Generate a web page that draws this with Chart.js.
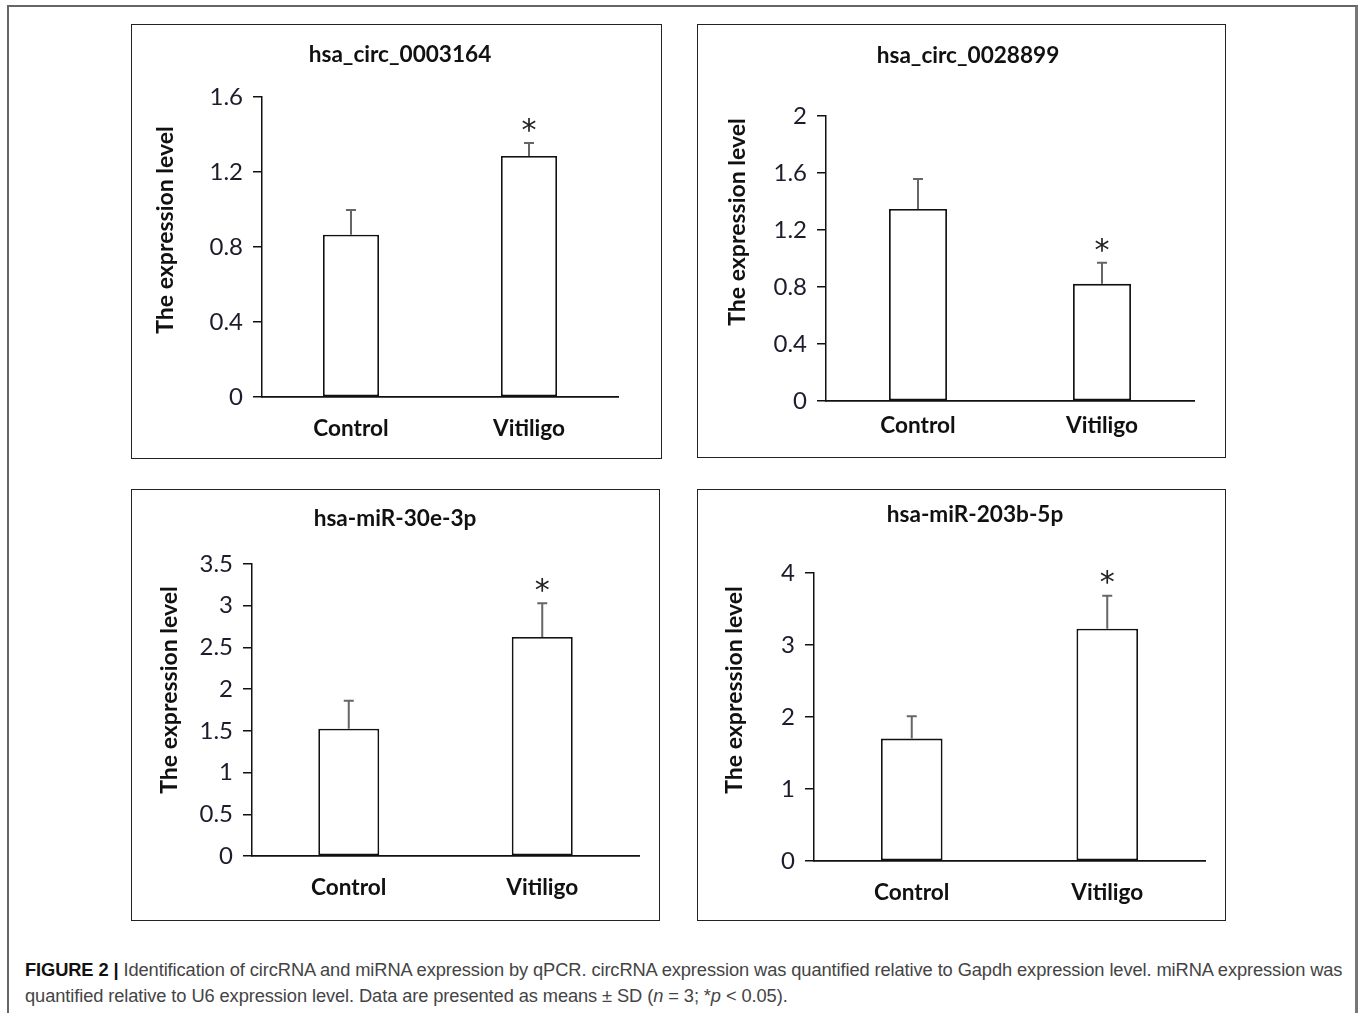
<!DOCTYPE html>
<html>
<head>
<meta charset="utf-8">
<script src="https://cdn.jsdelivr.net/npm/chart.js@4.4.1/dist/chart.umd.min.js"></script>
<style>
  body { margin: 0; background: #fff; }
  #page { position: relative; width: 1360px; height: 1013px; overflow: hidden; }
  .frame { position: absolute; border-top: 2px solid #666; border-left: 2px solid #666; border-right: 3px solid #777; left: 7px; top: 5px; width: 1351px; height: 1020px; box-sizing: border-box; }
  .box { position: absolute; border: 1.5px solid #222; box-sizing: border-box; }
  canvas { position: absolute; }
  .caption { position: absolute; left: 25px; top: 957px; width: 1328px; font-family: "Liberation Sans", Arial, sans-serif; font-size: 18.3px; line-height: 26px; color: #444; letter-spacing: -0.1px; }
  .caption b { color: #111; }
</style>
</head>
<body>
<div id="page">
  <div class="frame"></div>
  <div class="caption"><b>FIGURE 2 |</b> Identification of circRNA and miRNA expression by qPCR. circRNA expression was quantified relative to Gapdh expression level. miRNA expression was quantified relative to U6 expression level. Data are presented as means ± SD (<i>n</i> = 3; *<i>p</i> &lt; 0.05).</div>
</div>
<script>
// data
const categories = ['Control', 'Vitiligo'];
const titles = ['hsa_circ_0003164', 'hsa_circ_0028899', 'hsa-miR-30e-3p', 'hsa-miR-203b-5p'];
const means = [
  [0.865, 1.285],
  [1.348, 0.822],
  [1.525, 2.625],
  [1.70, 3.225]
];
const sds = [
  [0.133, 0.07],
  [0.21, 0.148],
  [0.335, 0.405],
  [0.31, 0.46]
];
const significant = [
  [false, true],
  [false, true],
  [false, true],
  [false, true]
];
const yMax = [1.6, 2, 3.5, 4];
const yStep = [0.4, 0.4, 0.5, 1];
const yTitle = 'The expression level';

// layout of each panel in page pixels
const layouts = [
  { box: [131, 24, 531, 435], plot: [262, 618, 97, 397], title: [400, 55], ytitle: [166, 230], xpad: 19 },
  { box: [697, 24, 529, 434], plot: [826, 1194, 116, 401], title: [968, 56], ytitle: [738, 222], xpad: 12 },
  { box: [131, 489, 529, 432], plot: [252, 639, 564, 856], title: [395, 519], ytitle: [170, 690], xpad: 19 },
  { box: [697, 489, 529, 432], plot: [814, 1205, 573, 861], title: [975, 515], ytitle: [735, 690], xpad: 19 }
];

const FONT = 'Lato, "Open Sans", sans-serif';

const extras = {
  id: 'extras',
  afterDatasetsDraw(chart, args, opts) {
    const ctx = chart.ctx;
    const y = chart.scales.y;
    const meta = chart.getDatasetMeta(0);
    ctx.save();
    meta.data.forEach((bar, i) => {
      const top = y.getPixelForValue(opts.means[i]);
      const errTop = y.getPixelForValue(opts.means[i] + opts.sds[i]);
      ctx.strokeStyle = '#666';
      ctx.lineWidth = 2;
      ctx.beginPath();
      ctx.moveTo(bar.x, top);
      ctx.lineTo(bar.x, errTop);
      ctx.moveTo(bar.x - 5, errTop);
      ctx.lineTo(bar.x + 5, errTop);
      ctx.stroke();
      if (opts.sig[i]) {
        ctx.fillStyle = '#222';
        ctx.font = '30px "DejaVu Sans", sans-serif';
        ctx.textAlign = 'center';
        ctx.textBaseline = 'middle';
        ctx.fillText('*', bar.x, errTop - 11);
      }
    });
    ctx.restore();
  },
  afterDraw(chart, args, opts) {
    const ctx = chart.ctx;
    ctx.save();
    ctx.fillStyle = '#111';
    ctx.textAlign = 'center';
    ctx.textBaseline = 'middle';
    ctx.font = 'bold 22.6px ' + FONT;
    ctx.fillText(opts.title, opts.titlePos[0], opts.titlePos[1]);
    ctx.translate(opts.ytitlePos[0], opts.ytitlePos[1]);
    ctx.rotate(-Math.PI / 2);
    ctx.font = 'bold 23px ' + FONT;
    ctx.fillText(opts.ytitle, 0, 0);
    ctx.restore();
  }
};

const page = document.getElementById('page');

layouts.forEach((L, k) => {
  const [bx, by, bw, bh] = L.box;
  const [pl, pr, pt, pb] = L.plot;

  const frame = document.createElement('div');
  frame.className = 'box';
  frame.style.left = bx + 'px';
  frame.style.top = by + 'px';
  frame.style.width = bw + 'px';
  frame.style.height = bh + 'px';
  page.appendChild(frame);

  const cv = document.createElement('canvas');
  cv.width = bw;
  cv.height = bh;
  cv.style.left = bx + 'px';
  cv.style.top = by + 'px';
  cv.style.width = bw + 'px';
  cv.style.height = bh + 'px';
  page.appendChild(cv);

  new Chart(cv, {
    type: 'bar',
    data: {
      labels: categories,
      datasets: [{
        data: means[k],
        backgroundColor: '#fff',
        borderColor: '#111',
        borderWidth: 1.8,
        borderSkipped: false,
        categoryPercentage: 1,
        barPercentage: 0.315
      }]
    },
    options: {
      responsive: false,
      animation: false,
      devicePixelRatio: 1,
      layout: { padding: { left: 0, top: pt - by, right: bx + bw - pr, bottom: 0 } },
      plugins: {
        legend: { display: false },
        tooltip: { enabled: false },
        title: { display: false },
        extras: {
          means: means[k],
          sds: sds[k],
          sig: significant[k],
          title: titles[k],
          titlePos: [L.title[0] - bx, L.title[1] - by],
          ytitle: yTitle,
          ytitlePos: [L.ytitle[0] - bx, L.ytitle[1] - by]
        }
      },
      scales: {
        x: {
          offset: true,
          afterFit: s => { s.height = by + bh - pb; },
          grid: { display: false, drawTicks: false },
          border: { display: true, color: '#111', width: 1.8 },
          ticks: { color: '#111', padding: L.xpad - 1, font: { family: FONT, size: 22.6, weight: 'bold' } }
        },
        y: {
          min: 0,
          max: yMax[k],
          afterFit: s => { s.width = pl - bx; },
          ticks: {
            stepSize: yStep[k],
            color: '#1c1c2c',
            padding: 10,
            font: { family: FONT, size: 24 },
            callback: v => String(parseFloat(v.toFixed(2)))
          },
          grid: { drawOnChartArea: false, drawTicks: true, tickLength: 9, color: '#111', lineWidth: 1.5 },
          border: { display: true, color: '#111', width: 1.5 }
        }
      }
    },
    plugins: [extras]
  });
});
</script>
</body>
</html>
